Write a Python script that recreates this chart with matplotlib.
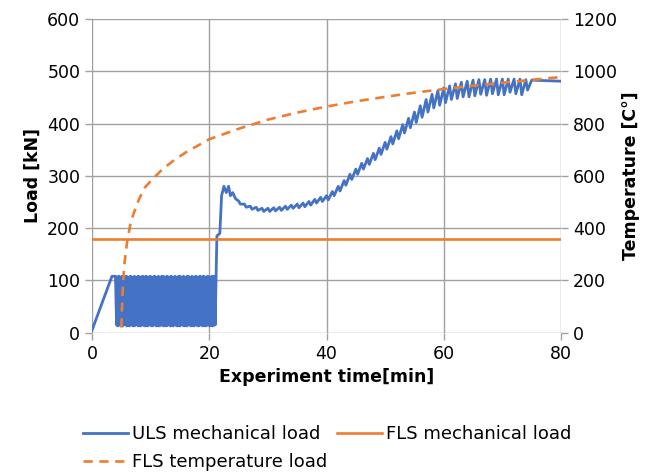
import numpy as np
import matplotlib.pyplot as plt

# ---- data ----
# ULS load: initial ramp
ramp_t = [0.0, 3.4, 4.0, 4.15]
ramp_load = [5, 108, 108, 34]

# cyclic block between these times
cyc_start, cyc_end = 4.25, 21.0
cyc_peaks = [107, 108, 106, 108, 107, 95, 108, 107, 106, 108,
             107, 90, 108, 106, 107, 108, 100, 107, 108, 106,
             108, 107, 92, 108, 107, 106, 108, 107, 98, 108,
             106, 107, 108, 107, 88, 108, 107, 106, 108, 107,
             96, 108, 106, 107, 108, 107, 94, 108, 106, 107,
             108, 107, 90, 108, 106, 107, 108, 99, 107, 108,
             106, 108, 107, 93, 108, 107, 106, 108, 107, 108]
cyc_troughs = [14, 13, 40, 14, 13, 15, 55, 13, 14, 13,
               30, 14, 13, 14, 60, 13, 14, 13, 25, 14,
               13, 14, 13, 50, 14, 13, 14, 35, 13, 14,
               13, 14, 45, 13, 14, 13, 14, 28, 13, 14,
               13, 55, 14, 13, 14, 13, 38, 14, 13, 14,
               13, 48, 14, 13, 14, 13, 30, 14, 13, 14,
               58, 13, 14, 13, 14, 42, 13, 14, 13, 14]

# jump and peak after cycling
jump_t = [21.0, 21.3, 21.8, 22.1, 22.5, 22.9, 23.3, 23.6, 24.0, 24.5]
jump_load = [15, 185, 190, 262, 280, 268, 280, 262, 268, 256]

# tooth tops and drops of the rising part
tooth_t = list(range(25, 75))
tooth_top = [252, 246, 242, 240, 238, 238, 239, 240, 242, 244,
             246, 248, 251, 255, 259, 262, 270, 280, 291, 303,
             313, 324, 333, 343, 353, 364, 375, 386, 398, 410,
             422, 434, 446, 456, 463, 468, 472, 476, 479, 481,
             483, 484, 484, 485, 485, 485, 485, 485, 485, 484]
tooth_drop = [6, 6, 6, 6, 6, 6, 6, 6, 6, 6,
              7, 7, 7, 7, 8, 8, 8, 9, 9, 10,
              10, 11, 11, 12, 12, 13, 14, 15, 16, 18,
              20, 22, 24, 26, 28, 28, 26, 28, 28, 30,
              30, 28, 30, 28, 30, 30, 25, 28, 30, 20]
tail_t = [75.0, 80.0]
tail_load = [483, 481]

# FLS mechanical load
fls_t = [0, 80]
fls_load = [180, 180]

# FLS temperature
temp_t = [5.0, 5.2, 5.5, 6.0, 6.5, 7.0, 8.0, 9.0, 10, 12, 14, 16, 18, 20,
          25, 30, 35, 40, 45, 50, 55, 60, 65, 70, 75, 80]
temp_c = [20, 150, 260, 350, 410, 450, 510, 555, 580, 625, 660, 690, 715, 740,
          780, 815, 842, 865, 885, 902, 918, 932, 945, 956, 967, 978]

# ---- build ULS path ----
uls_t = list(ramp_t)
uls_v = list(ramp_load)
cyc_times = np.linspace(cyc_start, cyc_end, 2 * len(cyc_peaks) + 1)
k = 0
for p, tr in zip(cyc_peaks, cyc_troughs):
    uls_t += [cyc_times[k], cyc_times[k + 1]]
    uls_v += [tr, p]
    k += 2
uls_t += jump_t
uls_v += jump_load
for t, top, d in zip(tooth_t, tooth_top, tooth_drop):
    uls_t += [t, t + 0.3]
    uls_v += [top, top - d]
uls_t += tail_t
uls_v += tail_load

blue = '#4472C4'
orange = '#ED7D31'
grid_c = '#A0A0A0'

plt.rcParams['font.family'] = 'DejaVu Sans'
plt.rcParams['font.size'] = 12.5

fig = plt.figure(figsize=(6.49, 4.74), dpi=100)
ax = fig.add_axes([0.1418, 0.298, 0.7226, 0.662])
ax.plot(uls_t, uls_v, color=blue, lw=2.0, label='ULS mechanical load', zorder=3)
ax.plot(fls_t, fls_load, color=orange, lw=1.9, label='FLS mechanical load', zorder=3)
ax.set_xlim(0, 80)
ax.set_ylim(0, 600)
ax.set_xticks(range(0, 81, 20))
ax.set_yticks(range(0, 601, 100))
ax.grid(True, color=grid_c, lw=1)
ax.set_axisbelow(True)
for s in ax.spines.values():
    s.set_visible(False)
ax.tick_params(color=grid_c, length=5, width=1)
ax.set_ylabel('Load [kN]', fontweight='bold')
ax.set_xlabel('Experiment time[min]', fontweight='bold')

ax2 = ax.twinx()
ax2.plot(temp_t, temp_c, color=orange, lw=1.9, dashes=(3.5, 2.5),
         label='FLS temperature load')
ax2.set_ylim(0, 1200)
ax2.set_yticks(range(0, 1201, 200))
for s in ax2.spines.values():
    s.set_visible(False)
ax2.tick_params(color=grid_c, length=5, width=1)
ax2.set_ylabel('Temperature [C°]', fontweight='bold')

h1, l1 = ax.get_legend_handles_labels()
h2, l2 = ax2.get_legend_handles_labels()
fig.legend([h1[0], h2[0], h1[1]], [l1[0], l2[0], l1[1]], ncol=2,
           loc='upper left', bbox_to_anchor=(0.116, 0.118), frameon=False,
           handlelength=2.5, handletextpad=0.22, columnspacing=0.55,
           labelspacing=0.55, fontsize=13, borderaxespad=0.0)

fig.savefig('out.png', dpi=100)
